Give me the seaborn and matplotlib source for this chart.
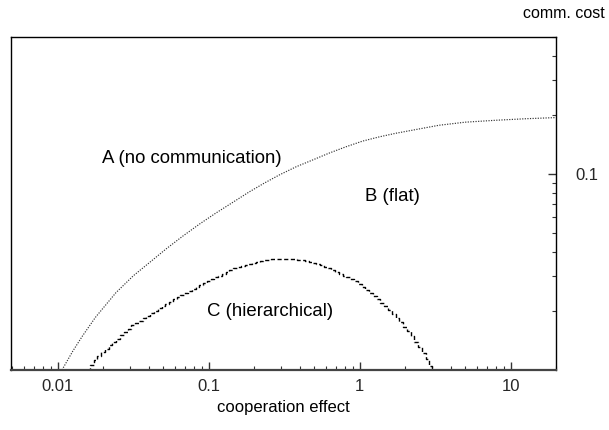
import numpy as np
import pandas as pd
import matplotlib
matplotlib.use("Agg")
import matplotlib.pyplot as plt
from matplotlib.ticker import LogLocator, FixedLocator, NullFormatter, FixedFormatter
import seaborn as sns

# Boundary between region A (no communication) and region B (flat)
ab_effect = [0.01066, 0.01259, 0.01459, 0.01778, 0.02428, 0.03162, 0.04036,
             0.05248, 0.0671, 0.0871, 0.1116, 0.1445, 0.1854, 0.2344, 0.293,
             0.380, 0.487, 0.631, 0.81, 1.047, 1.346, 1.738, 2.237, 3.357,
             5.01, 7.98, 12.6, 19.9]
ab_cost = [0.0100, 0.0125, 0.01493, 0.01858, 0.0248, 0.03022, 0.03524,
           0.0416, 0.0481, 0.0556, 0.0632, 0.0717, 0.0810, 0.0900, 0.0988,
           0.1089, 0.1178, 0.1280, 0.1376, 0.1472, 0.1546, 0.1614, 0.1673,
           0.1773, 0.1838, 0.1880, 0.1914, 0.1940]

# Boundary between region B (flat) and region C (hierarchical), grid sampled
bc_effect = [0.01585, 0.01679, 0.01778, 0.01884, 0.01995, 0.02113, 0.02239,
             0.02371, 0.02512, 0.02661, 0.02818, 0.02985, 0.03162, 0.0335,
             0.03548, 0.03758, 0.03981, 0.04217, 0.04467, 0.04732, 0.05012,
             0.05309, 0.05623, 0.05957, 0.0631, 0.06683, 0.07079, 0.07499,
             0.07943, 0.08414, 0.08913, 0.09441, 0.1, 0.1059, 0.1122, 0.1189,
             0.1259, 0.1334, 0.1413, 0.1496, 0.1585, 0.1679, 0.1778, 0.1884,
             0.1995, 0.2113, 0.2239, 0.2371, 0.2512, 0.2661, 0.2818, 0.2985,
             0.3162, 0.335, 0.3548, 0.3758, 0.3981, 0.4217, 0.4467, 0.4732,
             0.5012, 0.5309, 0.5623, 0.5957, 0.631, 0.6683, 0.7079, 0.7499,
             0.7943, 0.8414, 0.8913, 0.9441, 1.0, 1.059, 1.122, 1.189, 1.259,
             1.334, 1.413, 1.496, 1.585, 1.679, 1.778, 1.884, 1.995, 2.113,
             2.239, 2.371, 2.512, 2.661, 2.818, 2.985, 3.055]
bc_cost = [0.0100, 0.01062, 0.01122, 0.01183, 0.01231, 0.01282, 0.01334,
           0.01387, 0.01442, 0.01503, 0.01563, 0.01626, 0.01688, 0.01738,
           0.01786, 0.01841, 0.01892, 0.01945, 0.02004, 0.0206, 0.02123,
           0.0218, 0.02234, 0.02291, 0.02344, 0.02404, 0.0246, 0.02523,
           0.02582, 0.02649, 0.0271, 0.02771, 0.02831, 0.02897, 0.02965,
           0.03027, 0.03097, 0.03164, 0.03236, 0.03297, 0.0335, 0.034,
           0.03447, 0.0349, 0.03529, 0.03565, 0.03596, 0.03622, 0.03645,
           0.03663, 0.03676, 0.03685, 0.0369, 0.03689, 0.03683, 0.03671,
           0.03653, 0.03629, 0.036, 0.03564, 0.03524, 0.03479, 0.03428,
           0.03373, 0.03313, 0.0324, 0.0317, 0.031, 0.03032, 0.02966,
           0.02901, 0.02838, 0.02741, 0.02647, 0.02557, 0.0247, 0.02385,
           0.02304, 0.02208, 0.02114, 0.02024, 0.01938, 0.01848, 0.01752,
           0.01661, 0.01575, 0.01493, 0.01395, 0.01304, 0.0122, 0.01136,
           0.01054, 0.0100]

x_ticks = [0.01, 0.1, 1, 10]
x_tick_labels = ["0.01", "0.1", "1", "10"]
y_ticks = [0.1]
y_tick_labels = ["0.1"]

region_labels = ["A (no communication)", "B (flat)", "C (hierarchical)"]
region_x = [0.0197, 1.087, 0.0977]
region_y = [0.1205, 0.0764, 0.01994]

sns.set_theme(style="white")
plt.rcParams["font.family"] = ["Liberation Sans", "DejaVu Sans"]
FS = 12
FS_REGION = 13.4

fig = plt.figure(figsize=(6.09, 4.30), dpi=100)
ax = fig.add_axes([11 / 609, 60 / 430, 545 / 609, 333 / 430])

ab = pd.DataFrame({"effect": ab_effect, "cost": ab_cost})
bc = pd.DataFrame({"effect": bc_effect, "cost": bc_cost})

sns.lineplot(data=ab, x="effect", y="cost", ax=ax, estimator=None,
             color="#333333", linewidth=0.85, linestyle=(0, (1, 1.2)))
sns.lineplot(data=bc, x="effect", y="cost", ax=ax, estimator=None,
             color="black", linewidth=1.0, linestyle=(0, (3, 1.8)),
             drawstyle="steps-mid")

ax.set_xscale("log")
ax.set_yscale("log")
ax.set_xlim(0.0049, 20)
ax.set_ylim(0.01, 0.5)

# x axis: ticks pointing inward along the bottom
ax.xaxis.set_major_locator(FixedLocator(x_ticks))
ax.xaxis.set_major_formatter(FixedFormatter(x_tick_labels))
ax.xaxis.set_minor_locator(LogLocator(base=10, subs=np.arange(2, 10), numticks=20))
ax.xaxis.set_minor_formatter(NullFormatter())

# y axis on the right, ticks pointing inward
ax.yaxis.tick_right()
ax.yaxis.set_label_position("right")
ax.yaxis.set_major_locator(FixedLocator(y_ticks))
ax.yaxis.set_major_formatter(FixedFormatter(y_tick_labels))
ax.yaxis.set_minor_locator(LogLocator(base=10, subs=np.arange(2, 10), numticks=20))
ax.yaxis.set_minor_formatter(NullFormatter())

ax.tick_params(axis="x", which="major", direction="in", length=6, width=1,
               color="#333333", labelsize=FS, pad=6.5, bottom=True, top=False)
ax.tick_params(axis="x", which="minor", direction="in", length=3, width=0.8,
               color="#333333", bottom=True, top=False)
ax.tick_params(axis="y", which="major", direction="in", length=6, width=1,
               color="#333333", labelsize=FS, pad=14, right=True, left=False)
ax.tick_params(axis="y", which="minor", direction="in", length=3, width=0.8,
               color="#333333", right=True, left=False)

for side in ["left", "top", "right"]:
    ax.spines[side].set_color("black")
    ax.spines[side].set_linewidth(1.0)
ax.spines["bottom"].set_color("#444444")
ax.spines["bottom"].set_linewidth(1.6)

ax.set_xlabel("cooperation effect", fontsize=FS, labelpad=4, color="black")
ax.set_ylabel("")

for txt, tx, ty in zip(region_labels, region_x, region_y):
    ax.text(tx, ty, txt, fontsize=FS_REGION, ha="left", va="center", color="black")

fig.text(605 / 609, 1 - 14 / 430, "comm. cost", fontsize=11.5,
         ha="right", va="center", color="black")

fig.savefig("out.png", dpi=100, facecolor="white")
